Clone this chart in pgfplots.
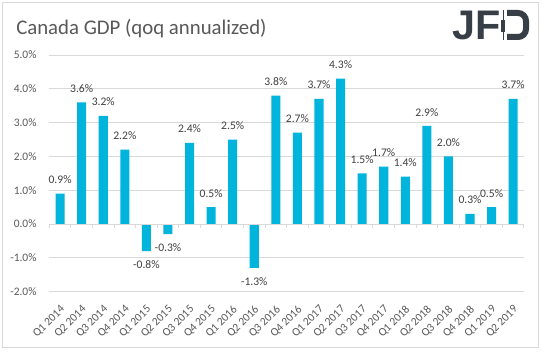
\documentclass[border=0pt]{standalone}
\usepackage{pgfplots}
\pgfplotsset{compat=1.18}
\usepackage{pgfplotstable}
\usepackage{fontspec}
\setmainfont{Carlito}
\newfontfamily\logofont{Liberation Sans}
\definecolor{barc}{RGB}{0,180,220}
\definecolor{gridc}{RGB}{217,217,217}
\definecolor{txt}{RGB}{89,89,89}
\definecolor{lbl}{RGB}{64,64,64}
\definecolor{logoc}{RGB}{55,62,70}

\pgfplotstableread{
idx val
0 0.9
1 3.6
2 3.2
3 2.2
4 -0.8
5 -0.3
6 2.4
7 0.5
8 2.5
9 -1.3
10 3.8
11 2.7
12 3.7
13 4.3
14 1.5
15 1.7
16 1.4
17 2.9
18 2.0
19 0.3
20 0.5
21 3.7
}\gdp

\begin{document}
\begin{tikzpicture}
\fill[white] (0pt,0pt) rectangle (407.25pt,263.25pt);
\draw[gridc, line width=0.75pt] (1.875pt,2.625pt) rectangle (403.875pt,261.375pt);
\node[anchor=base west, inner sep=0, text=txt, font=\fontsize{15.6}{18}\selectfont] at (12pt,237pt) {Canada GDP (qoq annualized)};
% logo, in image pixel coordinates
\begin{scope}[x=0.75pt, y=-0.75pt, shift={(0pt,263.25pt)}]
\node[anchor=base west, inner sep=0, text=logoc, font=\logofont\bfseries\fontsize{31}{36}\selectfont] at (452.2,40) {JF};
\draw[logoc, line width=4.5pt, rounded corners=6pt] (507,13) -- (526,13) -- (526,37) -- (507,37);
\draw[logoc, line width=0.9pt] (503.3,10) -- (503.3,40);
\fill[logoc] (501.3,20) rectangle (505.3,31.7);
\end{scope}
\begin{axis}[at={(36.975pt,44.55pt)}, anchor=south west, scale only axis,
  width=356pt, height=177.45pt,
  xmin=-0.5, xmax=21.5, ymin=-2, ymax=5, ytick={-2,...,5},
  axis line style={draw=none}, ymajorgrids, grid style={gridc, line width=0.75pt},
  major tick length=0pt,
  xtick={0,...,21},
  xticklabels={Q1 2014,Q2 2014,Q3 2014,Q4 2014,Q1 2015,Q2 2015,Q3 2015,Q4 2015,Q1 2016,Q2 2016,Q3 2016,Q4 2016,Q1 2017,Q2 2017,Q3 2017,Q4 2017,Q1 2018,Q2 2018,Q3 2018,Q4 2018,Q1 2019,Q2 2019},
  xticklabel style={inner sep=0pt, xshift=2.25pt, yshift=-12pt, rotate=45, anchor=east, font=\fontsize{8.6}{10}\selectfont, text=txt},
  yticklabel style={inner sep=0pt, xshift=-9.4pt, anchor=east, font=\fontsize{8.6}{10}\selectfont, text=txt},
  yticklabel={\pgfmathprintnumber[fixed,fixed zerofill,precision=1]{\tick}\%},
  /pgf/number format/assume math mode=true,
  clip=false,
]
\addplot[ybar, bar width=0.42, fill=barc, draw=none,
  nodes near coords={\pgfmathprintnumber[fixed,fixed zerofill,precision=1,assume math mode=true]{\pgfplotspointmeta}\%},
  nodes near coords style={font=\fontsize{8.7}{10}\selectfont, text=lbl, inner xsep=0pt, inner ysep=7.2pt},
] table[x=idx,y=val]{\gdp};
\end{axis}
\begin{axis}[at={(36.975pt,44.55pt)}, anchor=south west, scale only axis,
  width=356pt, height=177.45pt,
  xmin=-0.5, xmax=21.5, ymin=-2, ymax=5,
  axis x line=middle, axis y line=none,
  axis line style={gridc, line width=0.75pt, -},
  xtick={-0.5,0.5,...,21.5}, xticklabels={},
  major tick length=3pt, tick align=outside,
  tick style={gridc, line width=0.75pt},
]
\end{axis}
\end{tikzpicture}
\end{document}
